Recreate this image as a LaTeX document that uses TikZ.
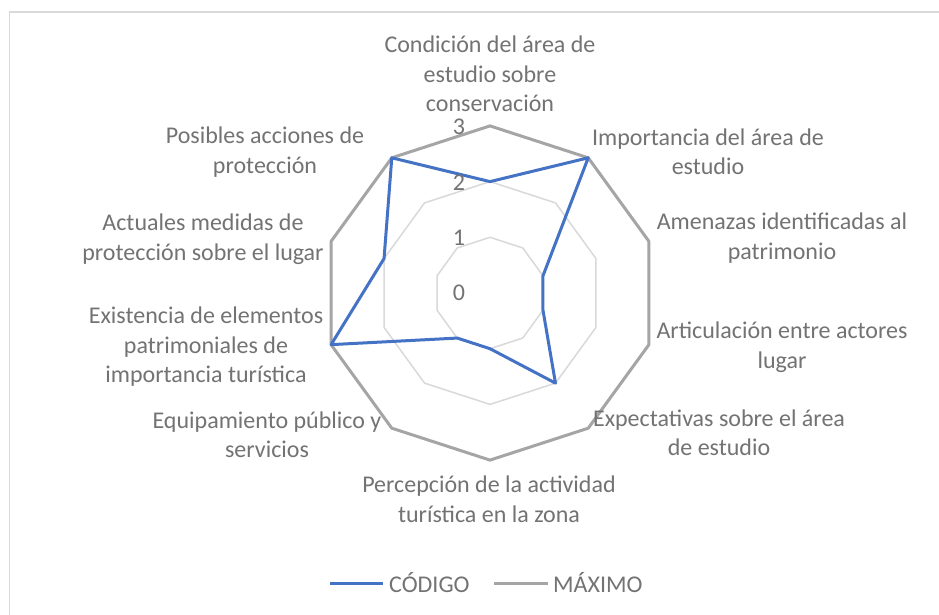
\documentclass[tikz,border=0pt]{standalone}
\usepackage{fontspec}
\setmainfont{Carlito}
\definecolor{serieA}{HTML}{4472C4}
\definecolor{serieB}{HTML}{A5A5A5}
\definecolor{gridc}{HTML}{D9D9D9}
\definecolor{txt}{HTML}{737373}
\definecolor{framec}{HTML}{D9D9D9}
\begin{document}
\begin{tikzpicture}[x=1pt,y=-1pt,
  lab/.style={text=txt,align=center,inner sep=0pt,font=\fontsize{24}{29.5}\selectfont},
  gridline/.style={draw=gridc,line width=1.5pt,line join=round},
  maxline/.style={draw=serieB,line width=3pt,line join=round},
  codline/.style={draw=serieA,line width=3pt,line join=round}]
\useasboundingbox (0,0) rectangle (939,615);
\fill[white] (0,0) rectangle (939,615);
\draw[framec,line width=1.5pt] (939,12) -- (9.5,12) -- (9.5,615);
% grid rings
\foreach \i in {0,...,9} {
  \coordinate (g1-\i) at ({490+55.7*sin(36*\i)},{293-55.7*cos(36*\i)});
  \coordinate (g2-\i) at ({490+111.4*sin(36*\i)},{293-111.4*cos(36*\i)});
  \coordinate (g3-\i) at ({490+167.1*sin(36*\i)},{293-167.1*cos(36*\i)});
}
\foreach \v [count=\i from 0] in {2,3,1,1,2,1,1,3,2,3}
  \coordinate (d-\i) at ({490+55.7*\v*sin(36*\i)},{293-55.7*\v*cos(36*\i)});
\draw[gridline] (g1-0) -- (g1-1) -- (g1-2) -- (g1-3) -- (g1-4) -- (g1-5) -- (g1-6) -- (g1-7) -- (g1-8) -- (g1-9) -- cycle;
\draw[gridline] (g2-0) -- (g2-1) -- (g2-2) -- (g2-3) -- (g2-4) -- (g2-5) -- (g2-6) -- (g2-7) -- (g2-8) -- (g2-9) -- cycle;
\draw[maxline] (g3-0) -- (g3-1) -- (g3-2) -- (g3-3) -- (g3-4) -- (g3-5) -- (g3-6) -- (g3-7) -- (g3-8) -- (g3-9) -- cycle;
\draw[codline] (d-0) -- (d-1) -- (d-2) -- (d-3) -- (d-4) -- (d-5) -- (d-6) -- (d-7) -- (d-8) -- (d-9) -- cycle;
% value labels
\node[lab] (v3) at (459,127) {3};
\node[lab] (v2) at (459,183) {2};
\node[lab] (v1) at (459,238) {1};
\node[lab] (v0) at (459,293) {0};
% axis labels
\node[lab] (l0) at (490,74) {Condición del área de\\estudio sobre\\conservación};
\node[lab] (l1) at (708,152) {Importancia del área de\\estudio};
\node[lab] (l2) at (782,238) {Amenazas identificadas al\\patrimonio};
\node[lab] (l3) at (782,347) {Articulación entre actores\\lugar};
\node[lab] (l4) at (719,433) {Expectativas sobre el área\\de estudio};
\node[lab] (l5) at (489,499) {Percepción de la actividad\\turística en la zona};
\node[lab] (l6) at (267,435) {Equipamiento público y\\servicios};
\node[lab] (l7) at (206,347) {Existencia de elementos\\patrimoniales de\\importancia turística};
\node[lab] (l8) at (203,239) {Actuales medidas de\\protección sobre el lugar};
\node[lab] (l9) at (265,152) {Posibles acciones de\\protección};
% legend
\coordinate (la1) at (330,583);
\coordinate (la2) at (383,583);
\coordinate (lb1) at (494,583);
\coordinate (lb2) at (548,583);
\draw[codline] (la1) -- (la2);
\draw[maxline] (lb1) -- (lb2);
\node[lab,anchor=west] (lc) at (389,583) {CÓDIGO};
\node[lab,anchor=west] (lm) at (553,583) {MÁXIMO};
\end{tikzpicture}
\end{document}
